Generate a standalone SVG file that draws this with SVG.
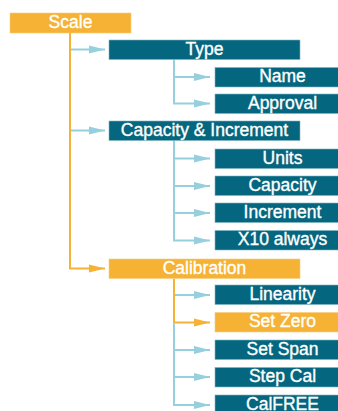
<svg xmlns="http://www.w3.org/2000/svg" width="338" height="411" viewBox="0 0 338 411">
  <style>
    .teal { fill: #05677F; stroke: #7FB6C4; stroke-width: 0.6; }
    .gold { fill: #F5B235; stroke: #F8CE7E; stroke-width: 0.6; }
    .lbl { font-family: "Liberation Sans", Arial, sans-serif; font-size: 17.5px; fill: #FFFFFF; stroke: #FFFFFF; stroke-width: 0.35; text-anchor: middle; }
    .blue-ln { stroke: #96CFDD; stroke-width: 2; fill: none; }
    .gold-ln { stroke: #F5B235; stroke-width: 2; fill: none; }
  </style>
  <defs>
    <marker id="ah-blue" markerUnits="userSpaceOnUse" markerWidth="17" markerHeight="9" refX="16" refY="4.5" orient="auto">
      <path d="M0,0.5 L16,4.5 L0,8.5 Z" fill="#96CFDD"/>
    </marker>
    <marker id="ah-gold" markerUnits="userSpaceOnUse" markerWidth="17" markerHeight="9" refX="16" refY="4.5" orient="auto">
      <path d="M0,0.5 L16,4.5 L0,8.5 Z" fill="#F5B235"/>
    </marker>
  </defs>

  <!-- connectors -->
  <g id="connectors">
    <!-- Scale trunk -->
    <path class="gold-ln" d="M70,33 V268.5 H105" marker-end="url(#ah-gold)"/>
    <path class="blue-ln" d="M71,49.5 H105" marker-end="url(#ah-blue)"/>
    <path class="blue-ln" d="M71,130.5 H105" marker-end="url(#ah-blue)"/>
    <!-- Type branch -->
    <path class="blue-ln" d="M174,59.5 V103.5 H210" marker-end="url(#ah-blue)"/>
    <path class="blue-ln" d="M175,77 H210" marker-end="url(#ah-blue)"/>
    <!-- Capacity & Increment branch -->
    <path class="blue-ln" d="M174,140.5 V240.5 H210" marker-end="url(#ah-blue)"/>
    <path class="blue-ln" d="M175,158.5 H210" marker-end="url(#ah-blue)"/>
    <path class="blue-ln" d="M175,186 H210" marker-end="url(#ah-blue)"/>
    <path class="blue-ln" d="M175,213 H210" marker-end="url(#ah-blue)"/>
    <!-- Calibration branch -->
    <path class="blue-ln" d="M174,323.5 V405 H210" marker-end="url(#ah-blue)"/>
    <path class="blue-ln" d="M175,295 H210" marker-end="url(#ah-blue)"/>
    <path class="blue-ln" d="M175,350 H210" marker-end="url(#ah-blue)"/>
    <path class="blue-ln" d="M175,377 H210" marker-end="url(#ah-blue)"/>
    <path class="gold-ln" d="M174,278.5 V322.5 H210" marker-end="url(#ah-gold)"/>
  </g>

  <g id="scale"><rect class="gold" x="10" y="13" width="121" height="20"/><text class="lbl" x="70.5" y="28">Scale</text></g>

  <g id="type"><rect class="teal" x="109" y="40" width="191" height="19.5"/><text class="lbl" x="204.5" y="54.5">Type</text></g>
  <g id="name"><rect class="teal" x="215" y="67.5" width="135" height="19.5"/><text class="lbl" x="282.5" y="82">Name</text></g>
  <g id="approval"><rect class="teal" x="215" y="94" width="135" height="19.5"/><text class="lbl" x="282.5" y="108.5">Approval</text></g>

  <g id="capacity-increment"><rect class="teal" x="109" y="121" width="191" height="19.5"/><text class="lbl" x="204.5" y="135.5">Capacity &amp; Increment</text></g>
  <g id="units"><rect class="teal" x="215" y="149" width="135" height="19.5"/><text class="lbl" x="282.5" y="163.5">Units</text></g>
  <g id="capacity"><rect class="teal" x="215" y="176" width="135" height="19.5"/><text class="lbl" x="282.5" y="190.5">Capacity</text></g>
  <g id="increment"><rect class="teal" x="215" y="203" width="135" height="19.5"/><text class="lbl" x="282.5" y="217.5">Increment</text></g>
  <g id="x10-always"><rect class="teal" x="215" y="230.5" width="135" height="19.5"/><text class="lbl" x="282.5" y="245">X10 always</text></g>

  <g id="calibration"><rect class="gold" x="109" y="259" width="191" height="19.5"/><text class="lbl" x="204.5" y="273.5">Calibration</text></g>
  <g id="linearity"><rect class="teal" x="215" y="285" width="135" height="19.5"/><text class="lbl" x="282.5" y="299.5">Linearity</text></g>
  <g id="set-zero"><rect class="gold" x="215" y="312.5" width="135" height="19.5"/><text class="lbl" x="282.5" y="327">Set Zero</text></g>
  <g id="set-span"><rect class="teal" x="215" y="340" width="135" height="19.5"/><text class="lbl" x="282.5" y="354.5">Set Span</text></g>
  <g id="step-cal"><rect class="teal" x="215" y="367.5" width="135" height="19.5"/><text class="lbl" x="282.5" y="382">Step Cal</text></g>
  <g id="calfree"><rect class="teal" x="215" y="395" width="135" height="19.5"/><text class="lbl" x="282.5" y="409.5">CalFREE</text></g>
</svg>
